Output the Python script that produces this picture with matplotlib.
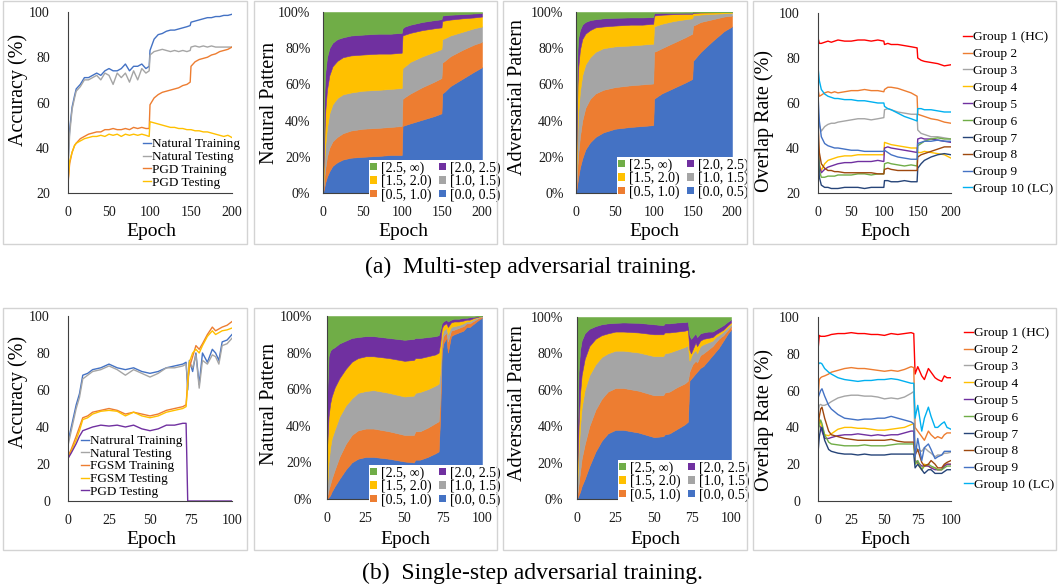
import numpy as np
import matplotlib
matplotlib.use('Agg')
import matplotlib.pyplot as plt
from matplotlib.patches import Patch, Rectangle

plt.rcParams['font.family'] = ['Liberation Serif', 'DejaVu Serif']

# ---------------- data ----------------
# (a) multi-step: accuracy
ep_acc_a = [0, 2, 5, 8, 10, 15, 20, 25, 30, 35, 40, 45, 50, 55, 60, 65, 70, 75, 80, 85, 90, 95, 99,
            100, 105, 110, 115, 120, 125, 130, 135, 140, 145, 149,
            150, 155, 160, 165, 170, 175, 180, 185, 190, 195, 200]
nat_train_a = [33, 48, 58, 63, 66, 68, 71, 71, 72, 73, 72, 74, 75, 74, 74, 75, 77, 74, 76, 76, 77, 75, 76,
               83, 88, 90, 90.5, 91.5, 92, 92, 92.5, 93, 93.5, 94,
               95.5, 96, 96.5, 97, 97.5, 97.5, 98, 98, 98.5, 98.5, 99]
nat_test_a = [30, 46, 57, 62, 65, 67, 70, 70, 71, 72, 70, 73, 72, 68, 73, 71, 73, 69, 74, 70, 75, 73, 74,
              81, 82.5, 83, 83.5, 83, 82.5, 83, 82.5, 83, 82.5, 83,
              84.5, 85, 84.5, 85, 84.5, 85, 84.5, 84.5, 84.5, 84.5, 84.5]
pgd_train_a = [24, 33, 38, 41, 42, 44, 45, 46, 46.5, 47, 47, 48, 48, 48.5, 48, 48, 48.5, 48, 49, 48.5, 49, 48.5, 48.5,
               59, 62, 63.5, 64.5, 65, 65.5, 66, 66.5, 67.5, 68, 69,
               76, 78, 79, 79.5, 80, 81, 81.5, 82.5, 83, 83.5, 84.5]
pgd_test_a = [25, 34, 38, 41, 42, 43, 44, 44.5, 45, 45, 45.5, 45, 46, 45.5, 46, 45, 46, 45.5, 46, 45.5, 46, 45.5, 45,
              51.5, 51, 50.5, 50, 49.5, 49, 49, 48.5, 48.5, 48, 48,
              48, 47.5, 47.5, 47, 47, 46.5, 46, 45.5, 45, 45.5, 44.5]

# (a) multi-step: pattern shares, upper edge of each band (%)
ep_stack_a = [0, 1, 2, 3, 5, 8, 12, 18, 25, 35, 50, 70, 85, 99,
              100, 103, 110, 125, 140, 149, 150, 153, 160, 175, 190, 200]
nat_a_b0 = [0, 2, 4, 6, 9, 12, 15, 17, 18.5, 19.5, 20, 20.5, 21, 21, 37, 37.5, 38.5, 40.5, 42.5, 44, 55, 56, 59, 63, 67, 69.5]
nat_a_b1 = [0.5, 5, 10, 14, 20, 25, 28.5, 31, 33, 34.5, 35.5, 36, 36.5, 37, 52, 53, 55, 58.5, 61.5, 63.5, 72, 73, 75.5, 79, 82, 83.5]
nat_a_b2 = [1, 10, 20, 27, 36, 44, 49, 52.5, 54.5, 55.5, 56.5, 57, 57.5, 58, 69, 70, 72.5, 75.5, 78, 79.5, 85, 85.5, 87, 89, 91, 92]
nat_a_b3 = [2, 20, 35, 46, 57, 65, 70, 73, 75, 76, 76.5, 77, 77, 77.5, 87, 87.5, 88.5, 90, 91, 91.5, 95, 95.3, 95.8, 96.5, 97, 97.5]
nat_a_b4 = [5, 40, 58, 67, 75, 80, 83, 85, 86, 87, 87.5, 88, 88, 88.5, 91, 92, 93, 94.5, 95.5, 96, 98, 98.2, 98.5, 98.8, 99.2, 99.4]

adv_a_b0 = [0, 3, 6, 9, 14, 19, 24, 28, 31, 33.5, 35.5, 36.5, 37, 37.5, 52, 53, 55, 58, 61, 63, 73, 74.5, 78, 84, 89.5, 92]
adv_a_b1 = [0.5, 8, 16, 22, 31, 40, 47, 52, 55, 57, 58.5, 59.5, 60, 60.5, 78, 78.5, 80, 83, 86, 88, 92.5, 93, 94.5, 96, 97.5, 98]
adv_a_b2 = [1, 20, 35, 45, 56, 65, 71, 75, 78, 80, 81, 81.5, 82, 82.5, 92, 92.5, 93.5, 95, 96, 96.5, 98, 98.2, 98.6, 99, 99.3, 99.5]
adv_a_b3 = [2, 40, 60, 70, 79, 85, 88, 90, 91.5, 92, 92.5, 93, 93, 93.5, 98, 98.2, 98.5, 98.8, 99, 99, 99.5, 99.6, 99.7, 99.8, 99.9, 100]
adv_a_b4 = [5, 65, 80, 86, 90, 93, 94.5, 95.5, 96, 96.5, 96.8, 97, 97, 97.2, 99.3, 99.4, 99.5, 99.5, 99.6, 99.6, 99.8, 99.8, 99.9, 99.9, 100, 100]

# (a) multi-step: overlap rate per group
ep_ov_a = [0, 2, 5, 10, 15, 20, 25, 30, 40, 50, 60, 70, 80, 90, 99,
           100, 105, 110, 120, 130, 140, 149,
           150, 155, 160, 170, 180, 190, 200]
ov_a_g1 = [89, 86.5, 86.5, 87, 87.5, 87, 87.5, 88, 87.5, 87.5, 88, 88, 87.5, 88, 87.5, 86, 86.5, 86, 86, 85.5, 85, 84.5, 80, 79, 78.5, 78, 77.5, 76.5, 77]
ov_a_g2 = [66, 63, 63.5, 64.5, 65, 64.5, 65, 64.5, 65, 65.5, 65.5, 66, 65.5, 65.5, 65, 66, 67, 67, 66.5, 65.5, 64.5, 63, 55, 54.5, 54, 53, 52.5, 51.5, 51]
ov_a_g3 = [57, 50, 47.5, 49.5, 50.5, 51, 51, 51.5, 52, 52.5, 53, 53, 52.5, 53, 53.5, 57, 57.5, 57, 56, 55.5, 55, 55, 48, 46.5, 46, 45, 45, 44.5, 44]
ov_a_g4 = [42, 33, 30, 33, 34.5, 35, 35.5, 36, 36.5, 36.5, 37, 37, 37, 37, 37, 42.5, 42, 41.5, 41, 40.5, 40, 40, 38, 38, 38.5, 38, 37.5, 37, 35.5]
ov_a_g5 = [41, 32, 29, 30.5, 31.5, 32, 32.5, 33, 33.5, 33.5, 34, 34, 34, 34.5, 34, 40, 40.5, 40, 39.5, 39, 38.5, 38, 44, 44.5, 44, 44, 43.5, 43, 42.5]
ov_a_g6 = [43, 30, 27, 27, 27.5, 27.5, 27.5, 28, 28, 28, 28.5, 28.5, 28, 28.5, 28.5, 33, 33.5, 33, 32.5, 32, 32.5, 32, 41, 42, 43, 44, 44.5, 44, 44]
ov_a_g7 = [40, 27, 23.5, 22.5, 22.5, 22, 22, 22, 22.5, 22.5, 22.5, 22, 22.5, 22.5, 22.5, 25.5, 25.5, 25, 25, 25.5, 25, 25, 31, 33, 34.5, 36, 37, 37.5, 37]
ov_a_g8 = [52, 38, 33, 31, 30, 30, 29.5, 29.5, 29, 29, 29, 29, 29, 28.5, 28.5, 30.5, 31, 30.5, 30, 30, 30, 30, 36, 37, 37.5, 38.5, 39.5, 40.5, 40.5]
ov_a_g9 = [64, 52, 45, 42, 41, 40.5, 40, 40, 39.5, 39, 39, 38.5, 38.5, 38.5, 38.5, 39, 38, 37, 36, 35.5, 35, 35, 42, 42.5, 43, 43, 43.5, 43, 43]
ov_a_g10 = [76, 70, 66, 64, 63, 62.5, 62, 62, 61.5, 61.5, 61, 61, 60.5, 60, 60, 58.5, 57.5, 57, 55.5, 54, 53, 52, 57.5, 57.5, 57, 57, 56.5, 56, 56]

# (b) single-step: accuracy
ep_acc_b = [0, 2, 5, 7, 9, 12, 15, 20, 25, 30, 35, 40, 45, 50, 55, 60, 65, 70, 72,
            73, 74, 76, 78, 80, 82, 85, 88, 90, 92, 94, 97, 100]
nat_train_b = [32, 40, 52, 58, 68, 69, 71, 72, 74, 72, 71, 72, 70, 69, 70, 72, 73, 74, 75,
               60, 76, 70, 80, 63, 80, 75, 82, 80, 76, 86, 87, 90]
nat_test_b = [30, 38, 50, 56, 66, 68, 70, 71, 73, 71, 68, 71, 69, 67, 69, 72, 72, 73, 74,
              64, 75, 72, 79, 61, 76, 74, 79, 78, 74, 84, 85, 88]
fgsm_train_b = [24, 28, 35, 40, 45, 46, 48, 49, 50, 49, 47, 48, 47, 46, 47, 49, 50, 51, 52,
                65, 72, 78, 84, 82, 85, 90, 94, 92, 93, 94, 95, 97]
fgsm_test_b = [23, 27, 33, 38, 44, 45, 47, 48.5, 49, 48.5, 46, 48, 46, 45, 46, 48, 49, 50, 51,
               63, 75, 80, 82, 80, 84, 89, 92, 90, 91, 92, 92.5, 93.5]
pgd_test_b = [23, 26, 31, 35, 38, 39, 40, 41, 40.5, 41, 40, 41, 39, 38, 39, 41, 41, 42, 42,
              0, 0, 0, 0, 0, 0, 0, 0, 0, 0, 0, 0, 0]

# (b) single-step: pattern shares, upper edge of each band (%)
ep_stack_b = [0, 1, 2, 3, 5, 8, 12, 16, 20, 25, 30, 40, 50, 56, 57, 60, 65, 70, 72,
              73, 74, 75, 77, 78, 80, 82, 85, 88, 90, 92, 95, 98, 100]
nat_b_b0 = [0, 1, 2, 4, 7, 11, 16, 20, 22, 23, 23, 22, 20.5, 20, 21.5, 21.5, 23, 25, 26,
            45, 80, 85, 88, 80, 89, 90, 91, 92, 94, 94, 96, 98, 99]
nat_b_b1 = [1, 5, 8, 11, 16, 23, 30, 35, 37.5, 38.5, 38.5, 37, 35, 35, 37, 37, 39, 41.5, 42.5,
            55, 85, 89, 91, 86, 92, 92.5, 93.5, 94.5, 96, 96, 97.5, 99, 99.5]
nat_b_b2 = [5, 20, 28, 33, 38, 45, 51, 55, 58, 59, 59.5, 58, 56, 56.5, 58, 58.5, 60, 62, 63,
            70, 88, 92, 93.5, 90, 94, 94.5, 95, 96, 97, 97, 98.5, 99.5, 100]
nat_b_b3 = [27, 45, 52, 56, 61, 66, 71, 75, 77, 78, 78, 77, 75.5, 76, 77, 77, 78, 79, 80,
            85, 93, 95, 96, 94, 96.5, 97, 97, 97.5, 98, 98, 99, 99.7, 100]
nat_b_b4 = [55, 78, 81, 82, 83, 85, 86.5, 88, 88.5, 89, 89, 88, 87, 87.5, 88, 88, 88.5, 89, 89.5,
            92, 96, 97, 98, 97, 98, 98.5, 98.5, 99, 99, 99.3, 99.6, 99.9, 100]

adv_b_b0 = [0, 2, 4, 7, 11, 18, 26, 32, 36, 38, 38, 36.5, 34, 34.5, 35.5, 36, 38.5, 41, 42.5,
            65, 66, 67, 69, 70, 72, 73, 76, 79, 81, 83, 87, 91, 93]
adv_b_b1 = [1, 8, 15, 22, 30, 40, 49, 55, 59, 61, 61, 59.5, 57, 57, 58.5, 59, 61.5, 63.5, 65,
            70, 72, 74, 76, 75, 79, 80, 82, 84, 86, 88, 90, 93, 95]
adv_b_b2 = [5, 25, 40, 50, 60, 68, 74, 78, 80, 81.5, 81.5, 80.5, 78.5, 78.5, 80, 80.5, 82, 83.5, 84.5,
            76, 78, 80, 82, 80, 84, 85, 86, 87, 89, 90, 92, 94.5, 96]
adv_b_b3 = [12, 40, 58, 68, 77, 84, 88, 90, 91, 92, 92, 91.5, 90.5, 90.5, 91.5, 91.5, 92, 92.5, 93,
            82, 80, 82, 86, 84, 87, 88, 88.5, 89, 90.5, 91.5, 93, 95.5, 97]
adv_b_b4 = [30, 70, 82, 87, 91, 93.5, 95, 96, 96.5, 96.8, 97, 96.8, 96, 95.5, 96.5, 96.5, 97, 97.2, 97.5,
            90, 88, 89, 91, 89, 91, 91.5, 92, 92, 93, 94, 95.5, 97.5, 98.5]

# (b) single-step: overlap rate per group
ep_ov_b = [0, 1, 2, 3, 5, 8, 10, 15, 20, 25, 30, 35, 40, 45, 50, 55, 60, 65, 70, 72,
           73, 75, 78, 80, 83, 85, 88, 90, 93, 95, 97, 100]
ov_b_g1 = [82, 90, 89.5, 89.5, 89.5, 90, 90.5, 91, 91, 91.5, 91, 91, 90.5, 90.5, 90, 91, 90.5, 91, 91.5, 91,
           69, 73, 68, 66, 72, 70, 67, 66, 65, 68, 67, 67]
ov_b_g2 = [56, 66, 67, 67.5, 68, 69, 70, 71, 72, 72.5, 72, 72, 71.5, 71, 70.5, 71, 70.5, 71.5, 73, 72.5,
           40, 38, 35, 33, 38, 36, 34, 35, 34, 36, 37, 37]
ov_b_g3 = [48, 52, 52.5, 52, 52, 53, 54, 56, 57, 57.5, 57.5, 57, 57, 56.5, 55.5, 56, 55.5, 56.5, 58.5, 59.5,
           30, 28, 27, 29, 27, 26, 24, 25, 25, 26, 26, 26.5]
ov_b_g4 = [45, 44, 42, 40, 36, 35.5, 36.5, 39, 40, 40, 39.5, 39.5, 39, 38.5, 38.5, 39, 39.5, 40, 41.5, 42,
           22, 20, 17, 20, 19, 18, 18, 17, 17, 19, 20, 20]
ov_b_g5 = [42, 41, 40, 38, 34, 34, 34.5, 35.5, 36, 36, 36.5, 36, 35.5, 36, 35.5, 36, 36, 37, 38, 38,
           22, 21, 19, 19, 19, 18, 17, 17, 17, 19, 20, 20]
ov_b_g6 = [36, 42, 44, 42, 36, 32, 31, 30.5, 30, 30, 30, 30.5, 30, 30, 30, 30.5, 31, 31, 31, 31,
           20, 22, 17, 19, 20, 19, 18, 17, 17, 18, 19, 19]
ov_b_g7 = [26, 35, 39, 40, 33, 28, 27, 26, 25.5, 25.5, 25, 25.5, 25, 25, 25, 25.5, 25.5, 25.5, 25.5, 25.5,
           18, 20, 17, 15, 17, 17, 15, 15, 15, 16, 17, 17]
ov_b_g8 = [40, 46, 50, 51, 45, 38, 36, 35, 34, 33.5, 33, 33, 33, 33, 33, 33.5, 32.5, 32, 32, 32,
           25, 28, 21, 19, 20, 22, 20, 18, 18, 20, 21, 22]
ov_b_g9 = [56, 58, 60, 61, 57, 52, 50, 47, 45, 44.5, 44, 44.5, 44.5, 45, 45, 46, 45, 44, 43, 42,
           24, 34, 22, 29, 31, 28, 23, 24, 25, 27, 27, 27]
ov_b_g10 = [74, 75, 75, 74.5, 72, 70, 69, 67, 66, 65.5, 65, 65.5, 65.5, 66, 66, 66.5, 66, 65, 64, 64,
            45, 52, 38, 45, 51, 46, 40, 40, 42, 43, 40, 39]

band_labels = ['[0.0, 0.5)', '[0.5, 1.0)', '[1.0, 1.5)', '[1.5, 2.0)', '[2.0, 2.5)', '[2.5, \u221e)']
band_colors = ['#4472C4', '#ED7D31', '#A5A5A5', '#FFC000', '#7030A0', '#70AD47']
group_labels = ['Group 1 (HC)', 'Group 2', 'Group 3', 'Group 4', 'Group 5',
                'Group 6', 'Group 7', 'Group 8', 'Group 9', 'Group 10 (LC)']
group_colors = ['#FF0000', '#ED7D31', '#A5A5A5', '#FFC000', '#7030A0',
                '#70AD47', '#264478', '#9E480E', '#4472C4', '#00B0F0']

# ---------------- layout helpers (pixel based) ----------------
W, H = 1058, 588
fig = plt.figure(figsize=(W / 100, H / 100), dpi=100)


def rect(x0, y0, x1, y1):
    return [x0 / W, 1 - y1 / H, (x1 - x0) / W, (y1 - y0) / H]


def fpt(x, y):
    return (x / W, 1 - y / H)


# light grey frames around every sub-panel
for y0, y1 in [(1, 244), (308, 550)]:
    for x0, x1 in [(3, 247), (254, 497), (503, 747), (753, 1056)]:
        fig.add_artist(Rectangle(fpt(x0, y1), (x1 - x0) / W, (y1 - y0) / H,
                                 transform=fig.transFigure, fill=False,
                                 edgecolor='#d3d3d3', lw=1.0))


def style(ax, xmax, xticks, ymin, yticks, ypad, ylab, ylab_xy, xlab_xy, pct=False):
    ax.set_xlim(0, xmax)
    ax.set_ylim(ymin, 100)
    ax.set_xticks(xticks)
    ax.set_yticks(yticks)
    if pct:
        ax.set_yticklabels([f'{v}%' for v in yticks])
    for s in ['top', 'right']:
        ax.spines[s].set_visible(False)
    for s in ['left', 'bottom']:
        ax.spines[s].set_color('#404040')
        ax.spines[s].set_linewidth(0.8)
    ax.tick_params(length=0, labelsize=10, colors='#1a1a1a')
    ax.tick_params(axis='y', pad=ypad)
    ax.tick_params(axis='x', pad=9)
    ax.set_xlabel('Epoch', fontsize=14, va='center')
    ax.xaxis.set_label_coords(*fpt(*xlab_xy), transform=fig.transFigure)
    ax.set_ylabel(ylab, fontsize=14.5, va='center')
    ax.yaxis.set_label_coords(*fpt(*ylab_xy), transform=fig.transFigure)
    ax.set_facecolor('none')


def stack(ax, ep, tops, leg_xy):
    cum = np.vstack([np.zeros(len(ep))] + [np.array(t, float) for t in tops] + [np.full(len(ep), 100.0)])
    shares = np.diff(cum, axis=0)
    polys = ax.stackplot(ep, shares, colors=band_colors, linewidth=0)
    for p, c in zip(polys, band_colors):
        p.set_edgecolor(c)
        p.set_linewidth(0.4)
    order = [5, 3, 1, 4, 2, 0]
    handles = [Patch(facecolor=band_colors[i]) for i in order]
    ax.legend(handles, [band_labels[i] for i in order], ncol=2, loc='upper left',
              bbox_to_anchor=fpt(*leg_xy), bbox_transform=fig.transFigure,
              fontsize=10, frameon=True, facecolor='white', edgecolor='none', framealpha=1,
              fancybox=False, borderpad=0.08, borderaxespad=0, handlelength=0.5, handleheight=0.5,
              handletextpad=0.3, columnspacing=0.5, labelspacing=0.0)


def lines(ax, ep, series, colors, labels, leg_xy, hl, ls, fs):
    for y, c, lab in zip(series, colors, labels):
        ax.plot(ep, y, color=c, lw=1.0, label=lab)
    ax.legend(loc='upper left', bbox_to_anchor=fpt(*leg_xy), bbox_transform=fig.transFigure,
              frameon=False, fontsize=fs, handlelength=hl, handletextpad=0.05,
              labelspacing=ls, borderpad=0, borderaxespad=0)


# ---------------- row (a) ----------------
ax1 = fig.add_axes(rect(68, 12, 232, 193))
lines(ax1, ep_acc_a, [nat_train_a, nat_test_a, pgd_train_a, pgd_test_a],
      ['#4472C4', '#A5A5A5', '#ED7D31', '#FFC000'],
      ['Natural Training', 'Natural Testing', 'PGD Training', 'PGD Testing'],
      (143, 138), 0.6, 0.05, 9.5)
style(ax1, 200, [0, 50, 100, 150, 200], 20, [20, 40, 60, 80, 100], 13,
      'Accuracy (%)', (18, 90), (151, 232))

ax2 = fig.add_axes(rect(323, 12, 482, 193))
stack(ax2, ep_stack_a, [nat_a_b0, nat_a_b1, nat_a_b2, nat_a_b3, nat_a_b4], (369, 160))
style(ax2, 200, [0, 50, 100, 150, 200], 0, [0, 20, 40, 60, 80, 100], 9,
      'Natural Pattern', (270, 103), (403, 232), pct=True)

ax3 = fig.add_axes(rect(576, 12, 732, 193))
stack(ax3, ep_stack_a, [adv_a_b0, adv_a_b1, adv_a_b2, adv_a_b3, adv_a_b4], (617, 157))
style(ax3, 200, [0, 50, 100, 150, 200], 0, [0, 20, 40, 60, 80, 100], 9,
      'Adversarial Pattern', (517, 97), (654, 232), pct=True)

ax4 = fig.add_axes(rect(818, 13, 951, 193))
lines(ax4, ep_ov_a, [ov_a_g1, ov_a_g2, ov_a_g3, ov_a_g4, ov_a_g5,
                     ov_a_g6, ov_a_g7, ov_a_g8, ov_a_g9, ov_a_g10],
      group_colors, group_labels, (963, 31), 0.7, 0.34, 9.6)
style(ax4, 200, [0, 50, 100, 150, 200], 20, [20, 40, 60, 80, 100], 13,
      'Overlap Rate (%)', (764, 121), (885, 232))

# ---------------- row (b) ----------------
ax5 = fig.add_axes(rect(68, 316, 232, 501))
lines(ax5, ep_acc_b, [nat_train_b, nat_test_b, fgsm_train_b, fgsm_test_b, pgd_test_b],
      ['#4472C4', '#A5A5A5', '#ED7D31', '#FFC000', '#7030A0'],
      ['Natrural Training', 'Natural Testing', 'FGSM Training', 'FGSM Testing', 'PGD Testing'],
      (81, 435), 0.6, 0.03, 9.5)
style(ax5, 100, [0, 25, 50, 75, 100], 0, [0, 20, 40, 60, 80, 100], 13,
      'Accuracy (%)', (18, 392), (151, 539))

ax6 = fig.add_axes(rect(327, 316, 482, 499))
stack(ax6, ep_stack_b, [nat_b_b0, nat_b_b1, nat_b_b2, nat_b_b3, nat_b_b4], (369, 465))
style(ax6, 100, [0, 25, 50, 75, 100], 0, [0, 20, 40, 60, 80, 100], 11,
      'Natural Pattern', (269, 404), (405, 539), pct=True)

ax7 = fig.add_axes(rect(577, 317, 731, 499))
stack(ax7, ep_stack_b, [adv_b_b0, adv_b_b1, adv_b_b2, adv_b_b3, adv_b_b4], (618, 460))
style(ax7, 100, [0, 25, 50, 75, 100], 0, [0, 20, 40, 60, 80, 100], 10,
      'Adversarial Pattern', (517, 403), (655, 539), pct=True)

ax8 = fig.add_axes(rect(818, 317, 951, 501))
lines(ax8, ep_ov_b, [ov_b_g1, ov_b_g2, ov_b_g3, ov_b_g4, ov_b_g5,
                     ov_b_g6, ov_b_g7, ov_b_g8, ov_b_g9, ov_b_g10],
      group_colors, group_labels, (964, 327), 0.7, 0.34, 9.6)
style(ax8, 100, [0, 25, 50, 75, 100], 0, [0, 20, 40, 60, 80, 100], 13,
      'Overlap Rate (%)', (764, 420), (885, 539))

# captions
fig.text(*fpt(531, 267), '(a)  Multi-step adversarial training.', fontsize=17, ha='center', va='center')
fig.text(*fpt(532, 573), '(b)  Single-step adversarial training.', fontsize=17, ha='center', va='center')

fig.savefig('out.png', dpi=100)
